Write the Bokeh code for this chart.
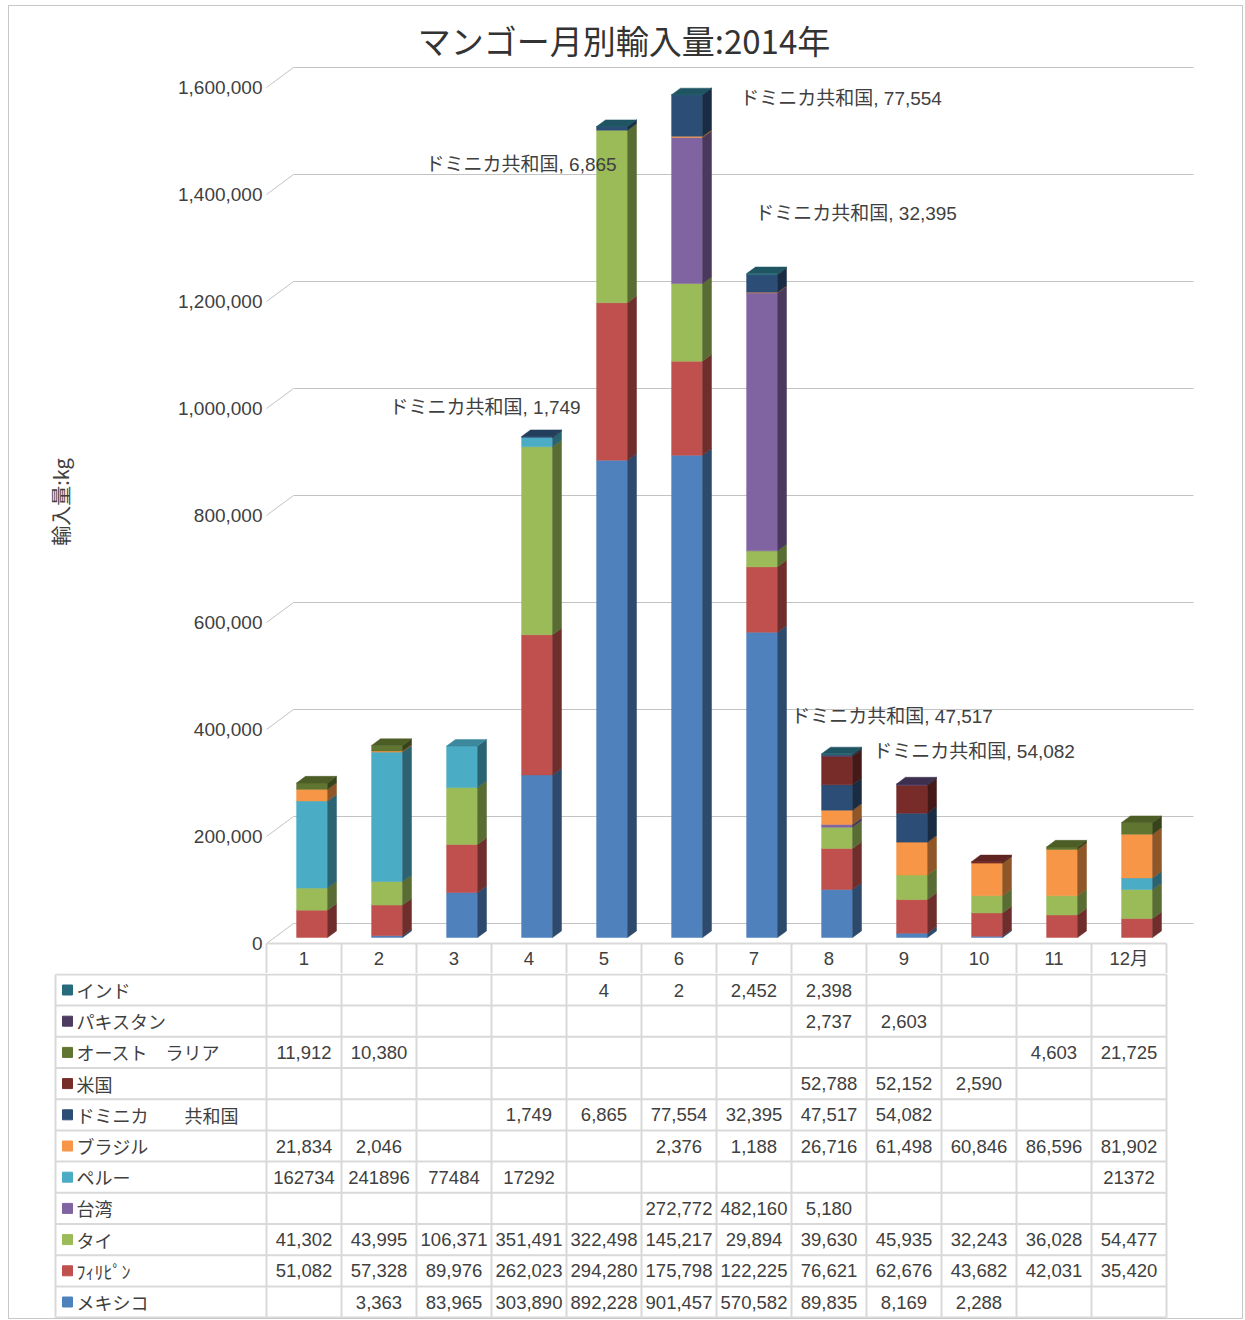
from bokeh.plotting import figure
from bokeh.layouts import column
from bokeh.models import ColumnDataSource, FixedTicker, NumeralTickFormatter, Range1d
from bokeh.core.properties import value
from bokeh.embed import file_html
from bokeh.resources import INLINE

# ---------------- data ----------------
months = list(range(1, 13))
month_labels = ["1", "2", "3", "4", "5", "6", "7", "8", "9", "10", "11", "12月"]

mexico = [None, 3363, 83965, 303890, 892228, 901457, 570582, 89835, 8169, 2288, None, None]
philippines = [51082, 57328, 89976, 262023, 294280, 175798, 122225, 76621, 62676, 43682, 42031, 35420]
thailand = [41302, 43995, 106371, 351491, 322498, 145217, 29894, 39630, 45935, 32243, 36028, 54477]
taiwan = [None, None, None, None, None, 272772, 482160, 5180, None, None, None, None]
peru = [162734, 241896, 77484, 17292, None, None, None, None, None, None, None, 21372]
brazil = [21834, 2046, None, None, None, 2376, 1188, 26716, 61498, 60846, 86596, 81902]
dominican = [None, None, None, 1749, 6865, 77554, 32395, 47517, 54082, None, None, None]
usa = [None, None, None, None, None, None, None, 52788, 52152, 2590, None, None]
australia = [11912, 10380, None, None, None, None, None, None, None, None, 4603, 21725]
pakistan = [None, None, None, None, None, None, None, 2737, 2603, None, None, None]
india = [None, None, None, None, 4, 2, 2452, 2398, None, None, None, None]

# stacking order: bottom first
series_names = ["メキシコ", "ﾌｨﾘﾋﾟﾝ", "タイ", "台湾", "ペルー", "ブラジル",
                "ドミニカ共和国", "米国", "オーストラリア", "パキスタン", "インド"]
table_row_labels = ["メキシコ", "ﾌｨﾘﾋﾟﾝ", "タイ", "台湾", "ペルー", "ブラジル",
                    "ドミニカ\u3000\u3000共和国", "米国", "オースト\u3000ラリア", "パキスタン", "インド"]
series_values = [mexico, philippines, thailand, taiwan, peru, brazil,
                 dominican, usa, australia, pakistan, india]
series_colors = ["#4F81BD", "#C0504D", "#9BBB59", "#8064A2", "#4BACC6", "#F79646",
                 "#2C4D75", "#772C2A", "#5F7530", "#4D3B62", "#276A7C"]
no_separator_series = {"ペルー"}

y_ticks = [0, 200000, 400000, 600000, 800000, 1000000, 1200000, 1400000, 1600000]

labelled_series = "ドミニカ共和国"
# manual label displacement in screen pixels (month -> (dx, dy))
label_offsets = {4: (-52, -29), 5: (-91, 36), 6: (154, -17), 7: (94, -70), 8: (55, -81), 9: (62, -76)}

title_text = "マンゴー月別輸入量:2014年"
y_title = "輸入量:kg"

# ---------------- layout constants (pixels) ----------------
MARGIN_TOP, MARGIN_LEFT = 5, 8
PAGE_X0, PAGE_Y0 = MARGIN_LEFT + 1, MARGIN_TOP + 1      # inside the 1px border
FIG_W = 1233
FRAME_LEFT_PX, FRAME_RIGHT_PX = 15, 1232
AXIS_PX = 266                                           # front-left corner of the floor
PLOT_TOP_PX, FLOOR_PX = 60, 943
HEADER_PX = 30
TABLE_LEFT_PX, TABLE_RIGHT_PX = 55, 1166
TABLE_H = 345
ROW_PX = 31.2
COL_PX = 75.0
KG_PER_PX = 200000 / 107.0
DEPTH_PX = (27.0, 20.0)
BAR_FRONT, BAR_DEPTH = 0.30, 0.33
BAR_W = 31 / COL_PX

FONT_JP = "'Noto Sans CJK JP', sans-serif"
FONT_AXIS = "'Liberation Sans', 'Noto Sans CJK JP', sans-serif"
TEXT_COLOR = "#404040"
GRID_COLOR = "#c3c3c3"
TABLE_LINE = "#d9d9d9"


def shade(hex_color, f):
    h = hex_color.lstrip("#")
    r, g, b = (int(h[i:i + 2], 16) for i in (0, 2, 4))
    return "#%02x%02x%02x" % (int(r * f), int(g * f), int(b * f))


def px_to_x(px):
    return 0.5 + (px - AXIS_PX) / COL_PX


DX = DEPTH_PX[0] / COL_PX
DY = DEPTH_PX[1] * KG_PER_PX
X0, X1 = px_to_x(FRAME_LEFT_PX), px_to_x(FRAME_RIGHT_PX)
LAST = months[-1] + 0.5

common = dict(width=FIG_W, output_backend="svg", toolbar_location=None,
              min_border_left=FRAME_LEFT_PX - PAGE_X0,
              min_border_right=PAGE_X0 + FIG_W - FRAME_RIGHT_PX)

# ---------------- chart figure ----------------
chart_h = FLOOR_PX - PAGE_Y0 + HEADER_PX
y_start = -HEADER_PX * KG_PER_PX
y_end = (FLOOR_PX - PLOT_TOP_PX) * KG_PER_PX

p = figure(height=chart_h, x_range=Range1d(X0, X1), y_range=Range1d(y_start, y_end),
           title=title_text, min_border_top=PLOT_TOP_PX - PAGE_Y0,
           min_border_bottom=0, **common)
p.outline_line_color = None
p.xgrid.visible = False
p.ygrid.visible = False

p.title.align = "center"
p.title.standoff = -6
p.title.text_font = FONT_JP
p.title.text_font_size = "33px"
p.title.text_font_style = "normal"
p.title.text_color = "#333333"

# y axis, anchored at the front-left corner of the floor
p.yaxis.fixed_location = 0.5
p.yaxis.bounds = (0, y_end)
p.yaxis.ticker = FixedTicker(ticks=y_ticks)
p.yaxis.formatter = NumeralTickFormatter(format="0,0")
p.yaxis.axis_line_color = None
p.yaxis.major_tick_line_color = None
p.yaxis.major_tick_in = 0
p.yaxis.major_tick_out = 0
p.yaxis.minor_tick_line_color = None
p.yaxis.major_label_standoff = 4
p.yaxis.major_label_text_font = FONT_AXIS
p.yaxis.major_label_text_font_size = "19px"
p.yaxis.major_label_text_color = TEXT_COLOR
p.yaxis.axis_label = y_title
p.yaxis.axis_label_text_font = FONT_JP
p.yaxis.axis_label_text_font_size = "20px"
p.yaxis.axis_label_text_font_style = "normal"
p.yaxis.axis_label_text_color = TEXT_COLOR
p.yaxis.axis_label_standoff = 100

# x axis = header row of the data table, anchored on the floor's front edge
p.xaxis.fixed_location = 0
p.xaxis.ticker = FixedTicker(ticks=months, minor_ticks=[m - 0.5 for m in months] + [LAST])
p.xaxis.major_label_overrides = {m: lab for m, lab in zip(months, month_labels)}
p.xaxis.bounds = (0.5, LAST)
p.xaxis.axis_line_color = TABLE_LINE
p.xaxis.axis_line_width = 2
p.xaxis.major_tick_line_color = None
p.xaxis.major_tick_in = 0
p.xaxis.major_tick_out = 0
p.xaxis.minor_tick_in = 0
p.xaxis.minor_tick_out = HEADER_PX
p.xaxis.minor_tick_line_color = TABLE_LINE
p.xaxis.minor_tick_line_width = 2
p.xaxis.major_label_standoff = -HEADER_PX + 4
p.xaxis.major_label_text_font = FONT_AXIS
p.xaxis.major_label_text_font_size = "18.5px"
p.xaxis.major_label_text_color = TEXT_COLOR

# back-wall gridlines with perspective diagonal
gx, gy = [], []
for v in y_ticks:
    gx.append([0.5, 0.5 + DX, LAST + DX])
    gy.append([v, v + DY, v + DY])
p.multi_line(gx, gy, line_color=GRID_COLOR, line_width=1)

# 3D stacked bars
fx, fy = BAR_FRONT * DX, BAR_FRONT * DY
bdx, bdy = BAR_DEPTH * DX, BAR_DEPTH * DY
front = dict(left=[], right=[], bottom=[], top=[], color=[])
side_xs, side_ys, side_c = [], [], []
top_xs, top_ys, top_c = [], [], []
label_rows = dict(x=[], y=[], text=[], dx=[], dy=[])
for mi, m in enumerate(months):
    cum = fy
    xl = m + fx - BAR_W / 2
    xr = m + fx + BAR_W / 2
    last_color = None
    for name, vals, col in zip(series_names, series_values, series_colors):
        v = vals[mi]
        if not v:
            continue
        b, t = cum, cum + v
        front["left"].append(xl); front["right"].append(xr)
        front["bottom"].append(b); front["top"].append(t)
        front["color"].append(col)
        side_xs.append([xr, xr + bdx, xr + bdx, xr])
        side_ys.append([b, b + bdy, t + bdy, t])
        side_c.append(shade(col, 0.58))
        if name == labelled_series and m in label_offsets:
            label_rows["x"].append(m + fx)
            label_rows["y"].append((b + t) / 2)
            label_rows["text"].append(f"{name}, {v:,}")
            label_rows["dx"].append(label_offsets[m][0])
            label_rows["dy"].append(label_offsets[m][1])
        cum = t
        last_color = col
    if last_color is not None:
        top_xs.append([xl, xr, xr + bdx, xl + bdx])
        top_ys.append([cum, cum, cum + bdy, cum + bdy])
        top_c.append(shade(last_color, 0.8))

p.quad(left="left", right="right", bottom="bottom", top="top", source=ColumnDataSource(front),
       fill_color="color", line_color="color", line_width=0.5)
p.patches(xs=side_xs, ys=side_ys, fill_color=side_c, line_color=side_c, line_width=0.5)
p.patches(xs=top_xs, ys=top_ys, fill_color=top_c, line_color=top_c, line_width=0.5)

p.text(x="x", y="y", text="text", x_offset="dx", y_offset="dy", source=ColumnDataSource(label_rows),
       text_font=value(FONT_AXIS), text_font_size="19px", text_color=TEXT_COLOR,
       text_align="center", text_baseline="middle")

# ---------------- data table figure ----------------
n_rows = len(series_names)
pad = (TABLE_H / ROW_PX - n_rows) / 2
tx0 = px_to_x(TABLE_LEFT_PX)
t = figure(height=TABLE_H, x_range=Range1d(X0, X1), y_range=Range1d(n_rows + pad, -pad),
           x_axis_location=None, y_axis_location=None,
           min_border_top=0, min_border_bottom=0, **common)
t.xgrid.visible = False
t.ygrid.visible = False
t.outline_line_color = None

# cell borders
hy = list(range(0, n_rows + 1))
t.segment(x0=[tx0] * len(hy), x1=[LAST] * len(hy), y0=hy, y1=hy,
          line_color=TABLE_LINE, line_width=2)
vx = [tx0] + [m - 0.5 for m in months] + [LAST]
t.segment(x0=vx, x1=vx, y0=[0] * len(vx), y1=[n_rows] * len(vx),
          line_color=TABLE_LINE, line_width=2)

row_y, row_text, row_color = [], [], []
cell_src = dict(x=[], y=[], text=[])
for r in range(n_rows):
    si = n_rows - 1 - r
    row_y.append(r + 0.5)
    row_text.append(table_row_labels[si])
    row_color.append(series_colors[si])
    for mi, m in enumerate(months):
        v = series_values[si][mi]
        if v is None:
            continue
        s = str(v) if series_names[si] in no_separator_series else f"{v:,}"
        cell_src["x"].append(m)
        cell_src["y"].append(r + 0.5)
        cell_src["text"].append(s)

key_x = tx0 + 12 / COL_PX
lab_x = tx0 + 21 / COL_PX
t.scatter(x=[key_x] * n_rows, y=row_y, marker="square", size=10,
          fill_color=row_color, line_color=row_color)
t.text(x=[lab_x] * n_rows, y=row_y, text=row_text,
       text_font=value(FONT_JP), text_font_size="18px", text_color=TEXT_COLOR,
       text_align="left", text_baseline="middle")
t.text(x="x", y="y", text="text", source=ColumnDataSource(cell_src),
       text_font=value(FONT_AXIS), text_font_size="18.5px", text_color=TEXT_COLOR,
       text_align="center", text_baseline="middle")

layout = column(p, t, margin=(MARGIN_TOP, 0, 0, MARGIN_LEFT),
                styles={"border": "1px solid #c8c8c8"})
open("out.html", "w").write(file_html(layout, INLINE))
